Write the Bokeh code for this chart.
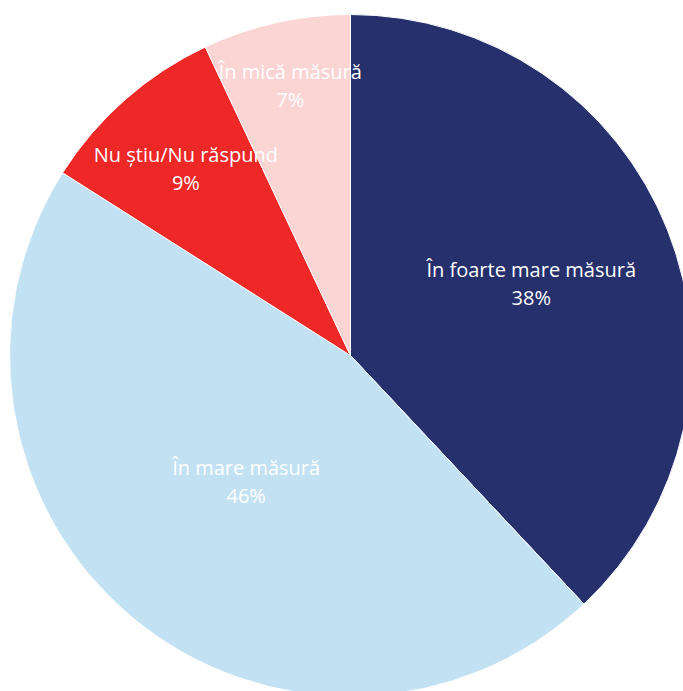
import math
from bokeh.plotting import figure
from bokeh.models import Range1d, ColumnDataSource
from bokeh.core.properties import value
from bokeh.embed import file_html
from bokeh.resources import INLINE

categories = ["În foarte mare măsură", "În mare măsură", "Nu știu/Nu răspund", "În mică măsură"]
shares = [38, 46, 9, 7]
colors = ["#25306c", "#c2e1f2", "#ee2727", "#fbd4d4"]
label_dist = [0.57, 0.48, 0.73, 0.81]

W, H = 683, 691
cx, cy, R = 350, H - 355, 341

total = sum(shares)
starts, ends, lx, ly1, ly2 = [], [], [], [], []
cum = 0.0
for s, d in zip(shares, label_dist):
    a0 = math.pi / 2 - 2 * math.pi * cum / total
    a1 = math.pi / 2 - 2 * math.pi * (cum + s) / total
    mid = (a0 + a1) / 2
    starts.append(a0)
    ends.append(a1)
    x = cx + d * R * math.cos(mid)
    y = cy + d * R * math.sin(mid)
    lx.append(x)
    ly1.append(y + 14)
    ly2.append(y - 14)
    cum += s

src = ColumnDataSource(dict(start=starts, end=ends, color=colors, x=[cx]*4, y=[cy]*4,
                            lx=lx, ly1=ly1, ly2=ly2, name=categories,
                            pct=[f"{v}%" for v in shares]))

p = figure(width=W, height=H, x_range=Range1d(0, W), y_range=Range1d(0, H),
           output_backend="svg", toolbar_location=None, min_border=0)
p.axis.visible = False
p.grid.visible = False
p.outline_line_color = None
p.background_fill_color = "white"

p.wedge(x="x", y="y", radius=R, start_angle="start", end_angle="end", direction="clock",
        fill_color="color", line_color="white", line_width=1, source=src)

p.text(x="lx", y="ly1", text="name", source=src, text_align="center", text_baseline="middle",
       text_color="white", text_font=value("Open Sans"), text_font_size="20px")
p.text(x="lx", y="ly2", text="pct", source=src, text_align="center", text_baseline="middle",
       text_color="white", text_font=value("Open Sans"), text_font_size="20px")

open("out.html", "w").write(file_html(p, INLINE))
